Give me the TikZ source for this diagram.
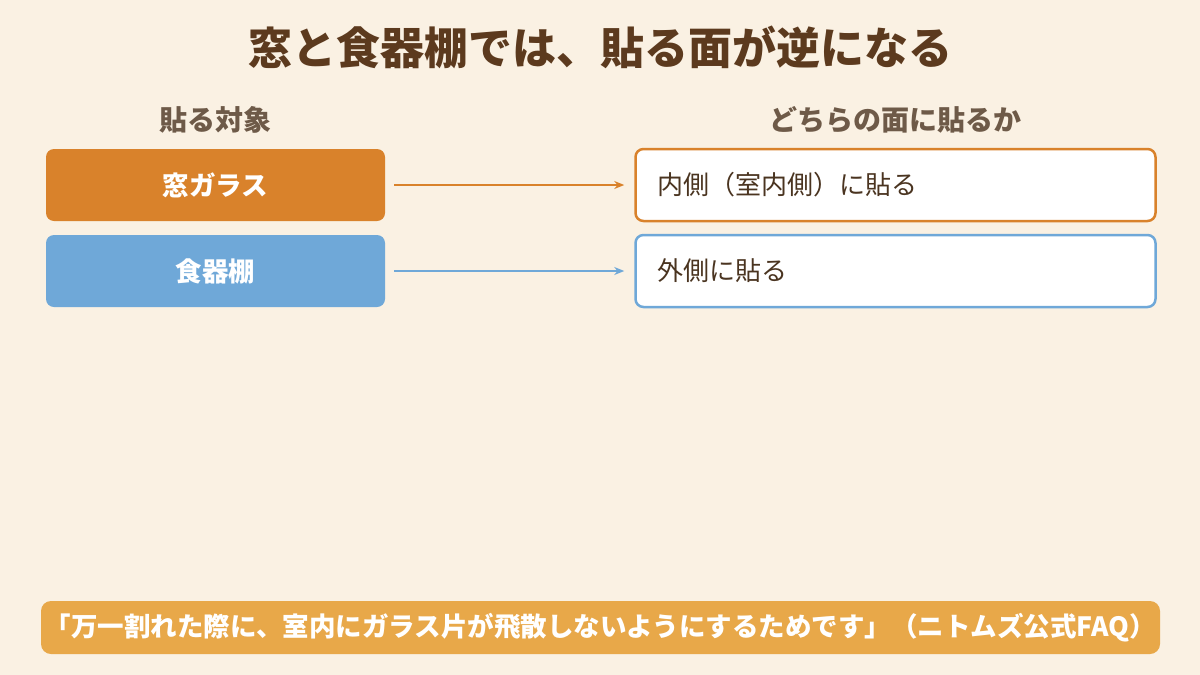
\documentclass[tikz,border=0pt]{standalone}
\usepackage{fontspec}
\setmainfont{Noto Sans CJK JP}
\definecolor{bg}{HTML}{FAF1E3}
\definecolor{ttl}{HTML}{5C3A1E}
\definecolor{hdr}{HTML}{6E5A48}
\definecolor{org}{HTML}{D9822B}
\definecolor{blu}{HTML}{6FA8D8}
\definecolor{ftr}{HTML}{E8A849}
\definecolor{txt}{HTML}{4A3420}
\usetikzlibrary{arrows.meta}
\begin{document}
\begin{tikzpicture}[x=1pt,y=-1pt,
  lbox/.style={rounded corners=8pt,minimum width=339pt,minimum height=72pt,inner sep=0pt,text=white,font=\fontsize{26.5}{30}\selectfont\bfseries},
  rbox/.style={rounded corners=8pt,fill=white,line width=2.5pt,minimum width=520pt,minimum height=72pt,inner sep=0pt,text width=476pt,align=left,text=txt,font=\fontsize{26}{30}\selectfont},
  arr/.style={line width=2pt,-{Stealth[length=10pt,width=8pt]}},
  hd/.style={text=hdr,font=\fontsize{28}{32}\selectfont\bfseries}]
\fill[bg] (0,0) rectangle (1200,675);
\useasboundingbox (0,0) rectangle (1200,675);
\node[text=ttl,font=\fontsize{44}{50}\selectfont\bfseries] (t) at (600,47) {窓と食器棚では、貼る面が逆になる};
\node[hd] (h1) at (215,120) {貼る対象};
\node[hd] (h2) at (895,120) {どちらの面に貼るか};
\node[lbox,fill=org] (a) at (215.5,185) {窓ガラス};
\node[lbox,fill=blu] (b) at (215.5,271) {食器棚};
\node[rbox,draw=org] (c) at (895.5,185) {内側（室内側）に貼る};
\node[rbox,draw=blu] (d) at (895.5,271) {外側に貼る};
\draw[arr,org] ([xshift=9pt]a.east) -- ([xshift=-10pt]c.west);
\draw[arr,blu] ([xshift=9pt]b.east) -- ([xshift=-10pt]d.west);
\node[fill=ftr,rounded corners=10pt,minimum width=1119pt,minimum height=53pt,inner sep=0pt,text=white,font=\fontsize{26.5}{30}\selectfont\bfseries] (f) at (600.5,627.5) {「万一割れた際に、室内にガラス片が飛散しないようにするためです」（ニトムズ公式FAQ）};
\end{tikzpicture}
\end{document}
